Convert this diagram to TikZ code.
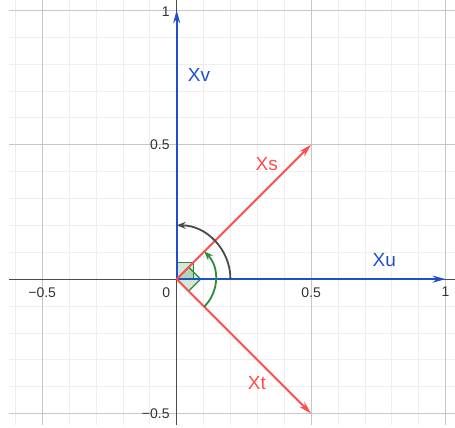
\documentclass[tikz,border=0pt]{standalone}
\usepackage{fontspec}
\setmainfont{Liberation Sans}
\usetikzlibrary{arrows.meta,calc}
\definecolor{vecblue}{HTML}{1E50C8}
\definecolor{vecred}{HTML}{FF4D4D}
\definecolor{anggreen}{HTML}{2E8B3C}
\definecolor{angdark}{HTML}{4A4A4A}
\definecolor{gridmajor}{HTML}{C6C6C6}
\definecolor{gridminor}{HTML}{EEEEEE}
\definecolor{ticktext}{HTML}{333333}

\begin{document}
\begin{tikzpicture}[x=269pt,y=269pt, every node/.style={font=\fontsize{19}{21}\selectfont}]
\tikzset{vec/.style={line width=2pt,-{Stealth[length=13pt,width=7pt]}},
  anglearc/.style={line width=1.8pt,-{Stealth[length=9pt,width=7pt]}},
  rightmark/.style={draw=anggreen,line width=1.3pt,fill=anggreen,fill opacity=0.2},
  ticklbl/.style={text=ticktext,font=\fontsize{14}{15}\selectfont,inner sep=1pt}}
\useasboundingbox (-0.657,-0.553) rectangle (1.035,1.038);
\fill[white] (-0.657,-0.553) rectangle (1.035,1.038);
% grid
\foreach \i in {-6,...,10} \draw[gridminor,line width=0.7pt] (\i/10,-0.543) -- (\i/10,1.038);
\foreach \j in {-5,...,10} \draw[gridminor,line width=0.7pt] (-0.622,\j/10) -- (1.035,\j/10);
\foreach \i in {-0.5,0.5,1} \draw[gridmajor,line width=0.8pt] (\i,-0.543) -- (\i,1.038);
\foreach \j in {-0.5,0.5,1} \draw[gridmajor,line width=0.8pt] (-0.622,\j) -- (1.035,\j);
% axes
\draw[angdark,line width=1pt] (-0.622,0) -- (1.035,0);
\draw[angdark,line width=1pt] (0,-0.543) -- (0,1.038);
\node[ticklbl,anchor=north] (xm) at (-0.5,-0.026) {−0.5};
\node[ticklbl,anchor=north] (xh) at (0.5,-0.026) {0.5};
\node[ticklbl,anchor=north] (x1) at (1,-0.026) {1};
\node[ticklbl,anchor=north east] (x0) at (-0.02,-0.026) {0};
\node[ticklbl,anchor=east] (yh) at (-0.022,0.5) {0.5};
\node[ticklbl,anchor=east] (y1) at (-0.022,0.993) {1};
\node[ticklbl,anchor=east] (ym) at (-0.022,-0.5) {−0.5};
% right angles
\coordinate (O) at (0,0);
\draw[rightmark] (O) rectangle (0.063,0.063);
\draw[rightmark] (O) -- (45:0.063) -- ($(45:0.063)+(-45:0.063)$) -- (-45:0.063) -- cycle;
% vectors
\coordinate (U) at (1,0);
\coordinate (V) at (0,1);
\coordinate (S) at (0.5,0.5);
\coordinate (T) at (0.5,-0.5);
\draw[vec,vecblue] (O) -- (U);
\draw[vec,vecblue] (O) -- (V);
\draw[vec,vecred] (O) -- (S);
\draw[vec,vecred] (O) -- (T);
% angles
\draw[anglearc,angdark] (0.2,0) arc[start angle=0,end angle=90,radius=0.2];
\draw[anglearc,anggreen] (-45:0.145) arc[start angle=-45,end angle=45,radius=0.145];
% labels
\node[text=vecblue] (xu) at (0.772,0.070) {Xu};
\node[text=vecblue] (xv) at (0.083,0.759) {Xv};
\node[text=vecred] (xs) at (0.335,0.429) {Xs};
\node[text=vecred] (xt) at (0.298,-0.387) {Xt};
\end{tikzpicture}
\end{document}
